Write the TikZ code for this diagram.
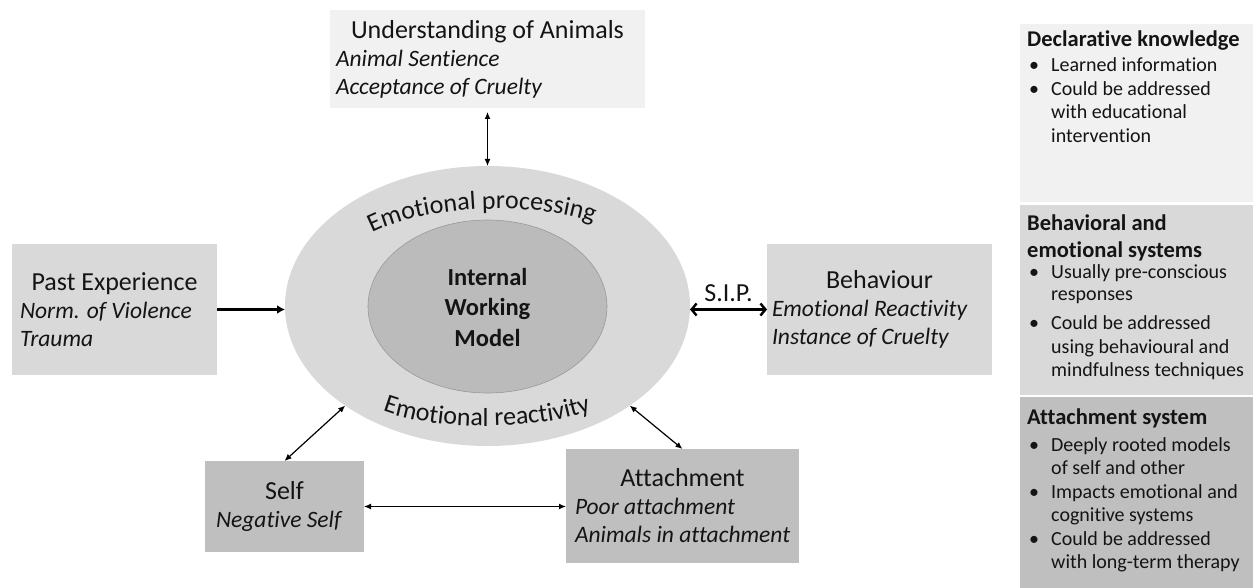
\documentclass[tikz,border=0pt]{standalone}
\usepackage{fontspec}
\setmainfont{Carlito}[Ligatures={NoCommon}]
\usetikzlibrary{arrows.meta,decorations.text,shapes.geometric}
\definecolor{gA}{HTML}{F1F1F1}
\definecolor{gB}{HTML}{D9D9D9}
\definecolor{gC}{HTML}{BFBFBF}
\definecolor{gE}{HTML}{D9D9D9}
\definecolor{gI}{HTML}{BBBBBB}
\definecolor{txt}{HTML}{141414}
\newcommand\hdfont{\fontsize{26}{28}\selectfont}
\newcommand\itfont{\fontsize{23.5}{28}\selectfont\itshape}
\newcommand\sbfont{\fontsize{20}{23.5}\selectfont}
\newcommand\sbhead{\fontsize{22.5}{23.5}\selectfont\bfseries}
\newcommand\arcfont{\fontsize{26}{30}\selectfont\color{txt}}
\newcommand\bul{\hspace*{2pt}\makebox[22pt][l]{\textbullet}}
\newcommand\ind{\hspace*{24pt}}
\begin{document}
\begin{tikzpicture}[x=1pt,y=1pt,
  box/.style={rectangle, inner ysep=0pt, outer sep=0pt, text=txt},
  panel/.style={rectangle, anchor=north west, inner sep=0pt, outer sep=0pt},
  sbtext/.style={anchor=base west, inner sep=0pt, text=txt},
  thinarr/.style={line width=1.2pt, {Latex[length=7pt,width=6pt]}-{Latex[length=7pt,width=6pt]}},
  thickarr/.style={line width=2.6pt, -{Latex[length=8pt,width=9pt]}},
  siparr/.style={line width=2.4pt, {Straight Barb[length=5pt,width=12pt]}-{Straight Barb[length=5pt,width=12pt]}}
]
\useasboundingbox (0,0) rectangle (1255,-588);
% side panels
\node[panel, fill=gA, minimum width=233, minimum height=178] (p1) at (1020,-24) {};
\node[panel, fill=gB, minimum width=233, minimum height=190] (p2) at (1020,-205) {};
\node[panel, fill=gC, minimum width=233, minimum height=191] (p3) at (1020,-397) {};
\node[sbtext] (t1) at (1027,-47) {\parbox[t]{224pt}{\sbfont\raggedright
  {\sbhead Declarative knowledge}\\[1.5pt]
  \bul Learned information\\
  \bul Could be addressed\\
  \ind with educational\\
  \ind intervention}};
\node[sbtext] (t2) at (1027,-230) {\parbox[t]{224pt}{\sbfont\raggedright
  {\sbhead Behavioral and}\\[3.5pt]
  {\sbhead emotional systems}\\[-2.5pt]
  \bul Usually pre-conscious\\[-1.5pt]
  \ind responses\\[5.5pt]
  \bul Could be addressed\\[0.5pt]
  \ind using behavioural and\\[-0.5pt]
  \ind mindfulness techniques}};
\node[sbtext] (t3) at (1027,-424) {\parbox[t]{224pt}{\sbfont\raggedright
  {\sbhead Attachment system}\\[3.5pt]
  \bul Deeply rooted models\\
  \ind of self and other\\
  \bul Impacts emotional and\\
  \ind cognitive systems\\
  \bul Could be addressed\\
  \ind with long-term therapy}};
% central ellipses
\node[ellipse, fill=gE, minimum width=405, minimum height=280, inner sep=0pt, outer sep=0pt] (outer) at (487.5,-306) {};
\node[ellipse, fill=gI, draw=gray!80, line width=0.6pt, minimum width=239, minimum height=173, inner sep=0pt] (inner) at (487.5,-306.5) {};
\node[text=txt, align=center, font=\fontsize{24.5}{30.5}\selectfont\bfseries] (iwm) at (487.5,-307) {Internal\\Working\\Model};
\path[decorate, decoration={text along path, text align=center, text={|\arcfont|Emotional processing}}]
  (360,-240) .. controls (412,-204) and (545,-198) .. (606,-228);
\path[decorate, decoration={text along path, text align=center, text={|\arcfont|Emotional reactivity}}]
  (376,-408) .. controls (430,-432) and (540,-432) .. (598,-408);
% boxes
\node[box, fill=gA, minimum width=315, minimum height=98, inner xsep=6pt] (und) at (487.5,-59)
  {\parbox{303pt}{\hdfont\centering Understanding of Animals\par\raggedright\itfont \mbox{Animal Sentience}\\ \mbox{Acceptance of Cruelty}}};
\node[box, fill=gB, minimum width=205, minimum height=131, inner xsep=8pt] (pe) at (114.5,-309.5)
  {\parbox{189pt}{\hdfont\centering Past Experience\par\raggedright\itfont \mbox{Norm. of Violence}\\ \mbox{Trauma}}};
\node[box, fill=gB, minimum width=225, minimum height=131, inner xsep=5pt] (beh) at (879.5,-309.5)
  {\parbox{215pt}{\hdfont\centering Behaviour\par\raggedright\itfont \mbox{Emotional Reactivity}\\ \mbox{Instance of Cruelty}}};
\node[box, fill=gC, minimum width=159, minimum height=91, inner xsep=11pt] (self) at (284.5,-506.5)
  {\parbox{137pt}{\hdfont\centering Self\par\raggedright\itfont \mbox{Negative Self}}};
\node[box, fill=gC, minimum width=233, minimum height=114, inner xsep=9pt] (att) at (682.5,-506)
  {\parbox{215pt}{\hdfont\centering Attachment\par\raggedright\itfont \mbox{Poor attachment}\\ \mbox{Animals in attachment}}};
% connectors
\draw[thinarr, shorten <=4pt] (und.south) -- (outer.north);
\draw[thickarr] (pe.east) -- (pe.east -| outer.west);
\draw[siparr] (beh.west -| outer.east) -- node[above=3pt, text=txt, font=\hdfont] (sip) {S.I.P.} (beh.west);
\draw[thinarr] (self.north) -- (outer.215);
\draw[thinarr] (att.north) -- (outer.325);
\draw[thinarr] (self.east) -- (self.east -| att.west);
\end{tikzpicture}
\end{document}
